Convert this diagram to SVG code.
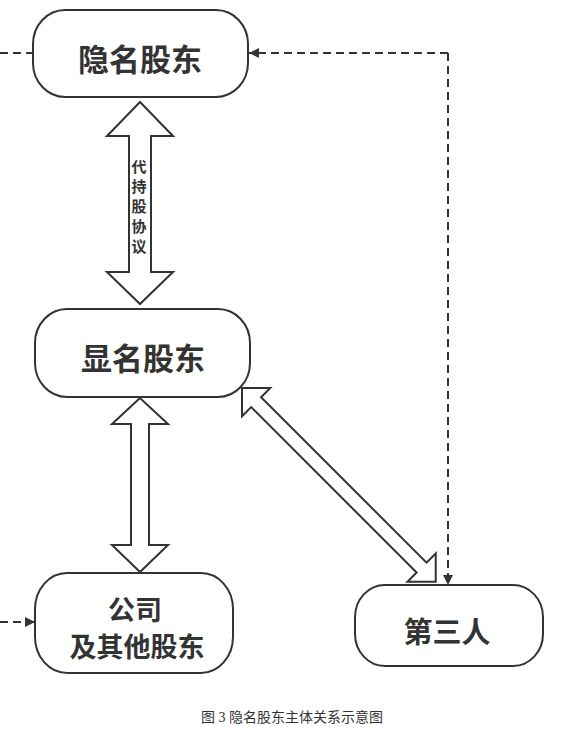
<svg xmlns="http://www.w3.org/2000/svg" width="580" height="729" viewBox="0 0 580 729">
<defs>
<marker id="ah" viewBox="0 0 10 10" refX="10" refY="5" markerWidth="10" markerHeight="10" markerUnits="userSpaceOnUse" orient="auto">
<path d="M0,0 L10,5 L0,10 z" fill="#333"/>
</marker>
</defs>
<style>
.node{fill:#fff;stroke:#333;stroke-width:2}
.lbl{font-family:"Noto Sans CJK SC","Noto Sans",sans-serif;font-weight:bold;fill:#333;text-anchor:middle;dominant-baseline:central}
.dash{fill:none;stroke:#333;stroke-width:2;stroke-dasharray:8 5}
.block{fill:#fff;stroke:#333;stroke-width:2;stroke-linejoin:miter}
.cap{font-family:"Liberation Serif","Noto Sans CJK SC",serif;font-size:14px;fill:#333;text-anchor:middle}
</style>
<rect width="580" height="729" fill="#fff"/>
<g id="connectors">
<line class="dash" x1="0" y1="53" x2="33" y2="53"/>
<line class="dash" x1="0" y1="622" x2="35" y2="622" marker-end="url(#ah)"/>
<polyline class="dash" points="448,53 249,53" marker-end="url(#ah)"/>
<line class="dash" x1="448" y1="53" x2="448" y2="585" marker-end="url(#ah)"/>
<polygon class="block" points="140,102 107,136 129,136 129,272 107,272 140,304 173,272 151,272 151,136 173,136"/>
<polygon class="block" points="140,398 112,424 131,424 131,545 112,545 140,572 168,545 149,545 149,424 168,424"/>
<polygon class="block" transform="translate(242,388) rotate(45)" points="0,0 20,-20 20,-7 254,-7 254,-20 274,0 254,20 254,7 20,7 20,20"/>
<text class="lbl" style="font-size:15px"><tspan x="139" y="165">代</tspan><tspan x="139" y="185">持</tspan><tspan x="139" y="205">股</tspan><tspan x="139" y="225">协</tspan><tspan x="139" y="245">议</tspan></text>
</g>
<g id="node-yinming">
<rect class="node" x="33" y="10" width="215" height="87" rx="32" ry="34"/>
<text class="lbl" x="140" y="57" style="font-size:31px">隐名股东</text>
</g>
<g id="node-xianming">
<rect class="node" x="35" y="309" width="215" height="88" rx="32" ry="34"/>
<text class="lbl" x="143" y="356" style="font-size:31px">显名股东</text>
</g>
<g id="node-company">
<rect class="node" x="35" y="573" width="198" height="100" rx="32" ry="36"/>
<text class="lbl" style="font-size:27px"><tspan x="135" y="608">公司</tspan><tspan x="137" y="645">及其他股东</tspan></text>
</g>
<g id="node-third">
<rect class="node" x="355" y="585" width="188" height="81" rx="30" ry="32"/>
<text class="lbl" x="447" y="630" style="font-size:29px">第三人</text>
</g>
<text class="cap" x="292" y="722">图 3 隐名股东主体关系示意图</text>
</svg>
